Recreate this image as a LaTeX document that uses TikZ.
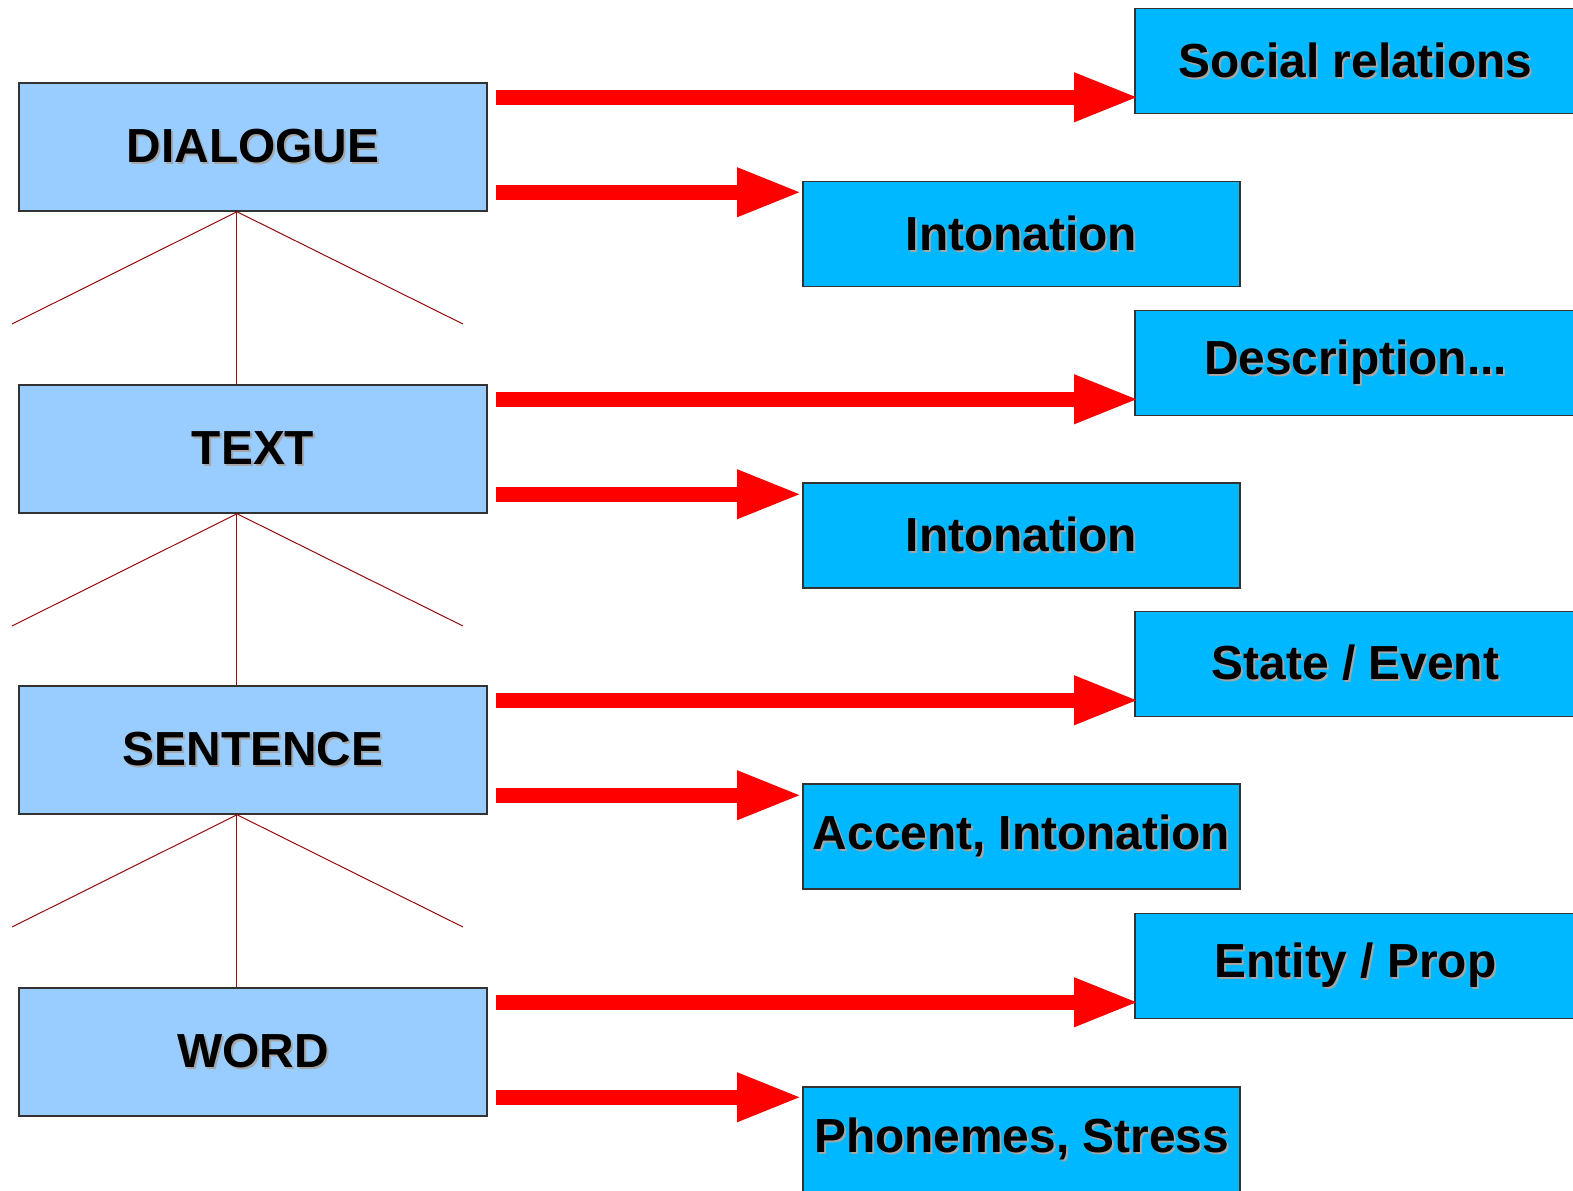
\documentclass[tikz,border=0pt]{standalone}
\usepackage{fontspec}
\setmainfont{Liberation Sans}
\usetikzlibrary{arrows.meta,positioning}
\definecolor{levelblue}{RGB}{153,204,255}
\definecolor{cueblue}{RGB}{0,184,255}
\definecolor{treered}{RGB}{150,10,10}
\newcommand{\shadowed}[1]{\makebox[0pt][l]{\hspace{0.02cm}\raisebox{-0.02cm}{\textcolor{black!35}{#1}}}#1}

\begin{document}
\begin{tikzpicture}[x=0.01cm,y=-0.01cm,
    level/.style={draw=black!80,fill=levelblue,minimum width=4.68cm,minimum height=1.28cm,inner sep=0pt,font=\fontsize{13.6}{16}\selectfont\bfseries},
    cue/.style={draw=black!80,fill=cueblue,minimum width=4.37cm,minimum height=1.05cm,inner sep=0pt,font=\fontsize{13.6}{16}\selectfont\bfseries},
    farcue/.style={cue,minimum width=4.41cm},
    bigarrow/.style={draw=red,line width=0.15cm,-{Triangle[length=0.65cm,width=0.45cm]}},
    branch/.style={draw=treered,line width=0.01cm}]
  \useasboundingbox (0,0) rectangle (1573,1190);
  \node[level] at (253,147) (dialogue) {\shadowed{DIALOGUE}};
  \node[level] at (253,449) (text) {\shadowed{TEXT}};
  \node[level] at (253,750) (sentence) {\shadowed{SENTENCE}};
  \node[level] at (253,1052) (word) {\shadowed{WORD}};
  \node[farcue] at (1355.5,61) (social) {\shadowed{Social relations}};
  \node[cue] at (1021.5,234) (intonation1) {\shadowed{Intonation}};
  \node[farcue] at (1355.5,363) (description) {\shadowed{Description...}};
  \node[cue] at (1021.5,535.5) (intonation2) {\shadowed{Intonation}};
  \node[farcue] at (1355.5,664) (stateevent) {\shadowed{State / Event}};
  \node[cue] at (1021.5,836.5) (accent) {\shadowed{Accent, Intonation}};
  \node[farcue] at (1355.5,966) (entityprop) {\shadowed{Entity / Prop}};
  \node[cue] at (1021.5,1139.5) (phonemes) {\shadowed{Phonemes, Stress}};
  \coordinate (dfork) at ([xshift=-0.16cm]dialogue.south);
  \coordinate (tfork) at ([xshift=-0.16cm]text.south);
  \coordinate (sfork) at ([xshift=-0.16cm]sentence.south);
  \coordinate (dleft) at (12,324);
  \coordinate (dright) at (463,324);
  \coordinate (tleft) at (12,626);
  \coordinate (tright) at (463,626);
  \coordinate (sleft) at (12,927);
  \coordinate (sright) at (463,927);
  \draw[branch] (dleft) -- (dfork) -- (dright);
  \draw[branch] (dfork) -- (dfork |- text.north);
  \draw[branch] (tleft) -- (tfork) -- (tright);
  \draw[branch] (tfork) -- (tfork |- sentence.north);
  \draw[branch] (sleft) -- (sfork) -- (sright);
  \draw[branch] (sfork) -- (sfork |- word.north);
  \coordinate (d1) at ([shift={(8,15)}]dialogue.north east);
  \coordinate (d2) at ([shift={(8,-19.5)}]dialogue.south east);
  \coordinate (t1) at ([shift={(8,15)}]text.north east);
  \coordinate (t2) at ([shift={(8,-19.5)}]text.south east);
  \coordinate (s1) at ([shift={(8,15)}]sentence.north east);
  \coordinate (s2) at ([shift={(8,-19.5)}]sentence.south east);
  \coordinate (w1) at ([shift={(8,15)}]word.north east);
  \coordinate (w2) at ([shift={(8,-19.5)}]word.south east);
  \draw[bigarrow] (d1) -- ([xshift=0.05cm]d1 -| social.west);
  \draw[bigarrow] (d2) -- (d2 -| intonation1.west);
  \draw[bigarrow] (t1) -- ([xshift=0.05cm]t1 -| description.west);
  \draw[bigarrow] (t2) -- (t2 -| intonation2.west);
  \draw[bigarrow] (s1) -- ([xshift=0.05cm]s1 -| stateevent.west);
  \draw[bigarrow] (s2) -- (s2 -| accent.west);
  \draw[bigarrow] (w1) -- ([xshift=0.05cm]w1 -| entityprop.west);
  \draw[bigarrow] (w2) -- (w2 -| phonemes.west);
\end{tikzpicture}
\end{document}
